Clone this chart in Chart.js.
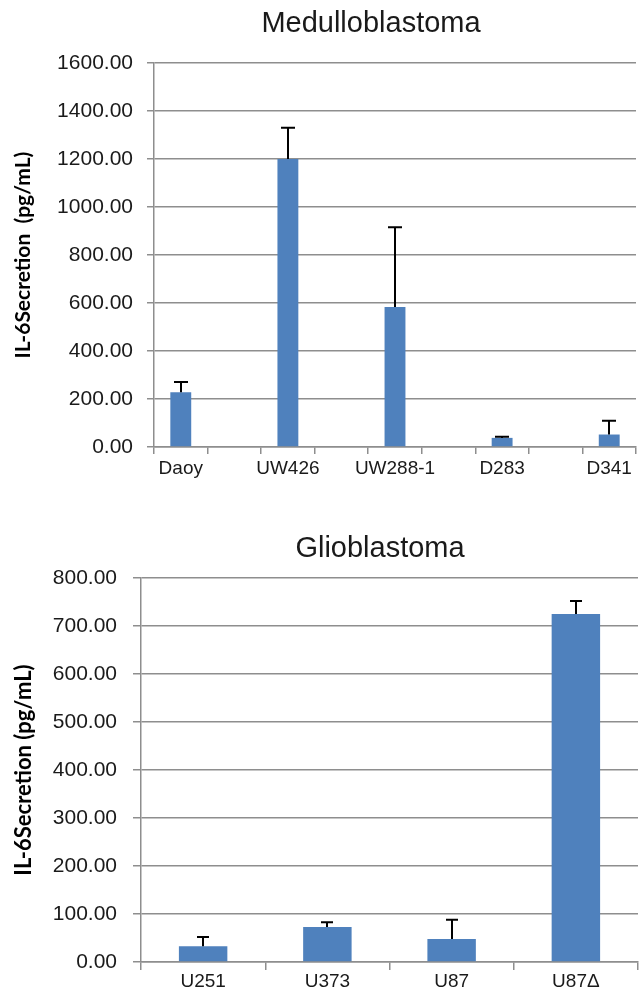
<!DOCTYPE html>
<html>
<head>
<meta charset="utf-8">
<script src="https://cdn.jsdelivr.net/npm/chart.js@4.4.1/dist/chart.umd.min.js"></script>
<style>
  html, body { margin: 0; padding: 0; background: #ffffff; }
  canvas { display: block; }
</style>
</head>
<body>
<canvas id="top" width="642" height="490"></canvas>
<canvas id="bottom" width="642" height="502"></canvas>
<script>
// ---- Data: Medulloblastoma (blank categories are empty spacer slots on the axis)
const medLabels = ['Daoy', '', 'UW426', '', 'UW288-1', '', 'D283', '', 'D341'];
const medValues = [228, null, 1200, null, 583, null, 38, null, 52];
const medErrors = [43, null, 130, null, 333, null, 5, null, 57];
const medTicks = [0, 200, 400, 600, 800, 1000, 1200, 1400, 1600];

// ---- Data: Glioblastoma
const gbmLabels = ['U251', 'U373', 'U87', 'U87\u0394'];
const gbmValues = [33, 73, 48, 725];
const gbmErrors = [19, 10, 40, 27];
const gbmTicks = [0, 100, 200, 300, 400, 500, 600, 700, 800];

const BAR = '#4F81BD';
const GRID = '#8e8e8e';
const TXT = '#1a1a1a';

const errorBarPlugin = {
  id: 'errorBars',
  afterDatasetsDraw(chart, args, opts) {
    const ctx = chart.ctx;
    const meta = chart.getDatasetMeta(0);
    const ys = chart.scales.y;
    const vals = chart.data.datasets[0].data;
    const errs = opts.errors;
    ctx.save();
    ctx.strokeStyle = '#000000';
    ctx.lineWidth = 2;
    vals.forEach((v, i) => {
      if (v === null || errs[i] === null) return;
      const el = meta.data[i];
      const x = Math.round(el.x);
      const yb = ys.getPixelForValue(v);
      const yt = ys.getPixelForValue(v + errs[i]);
      ctx.beginPath();
      ctx.moveTo(x, yb);
      ctx.lineTo(x, yt);
      ctx.moveTo(x - opts.cap / 2, yt);
      ctx.lineTo(x + opts.cap / 2, yt);
      ctx.stroke();
    });
    ctx.restore();
  }
};

const titlePlugin = {
  id: 'freeTitle',
  afterDraw(chart, args, opts) {
    const ctx = chart.ctx;
    ctx.save();
    ctx.font = opts.font;
    ctx.fillStyle = TXT;
    ctx.textAlign = 'center';
    ctx.textBaseline = 'middle';
    ctx.fillText(opts.text, opts.x, opts.y);
    ctx.restore();
  }
};

function makeChart(id, cfg) {
  return new Chart(document.getElementById(id), {
    type: 'bar',
    data: {
      labels: cfg.labels,
      datasets: [{
        data: cfg.values,
        backgroundColor: BAR,
        borderWidth: 0,
        barPercentage: 0.39,
        categoryPercentage: 1.0
      }]
    },
    plugins: [errorBarPlugin, titlePlugin],
    options: {
      responsive: false,
      animation: false,
      devicePixelRatio: 1,
      layout: { padding: cfg.padding },
      plugins: {
        legend: { display: false },
        tooltip: { enabled: false },
        title: { display: false },
        errorBars: { errors: cfg.errors, cap: cfg.cap },
        freeTitle: { text: cfg.title, x: cfg.titleX, y: cfg.titleY, font: '29px "Liberation Sans", Arial, sans-serif' }
      },
      scales: {
        x: {
          type: 'category',
          offset: true,
          grid: {
            display: true,
            drawOnChartArea: false,
            drawTicks: true,
            tickLength: cfg.tickLen,
            offset: true,
            color: GRID,
            lineWidth: 1.5
          },
          border: { display: true, color: GRID, width: 1.5 },
          ticks: {
            autoSkip: false,
            maxRotation: 0,
            minRotation: 0,
            padding: cfg.xPad,
            color: TXT,
            font: { family: '"Liberation Sans", Arial, sans-serif', size: 19 }
          },
          afterFit: s => { s.height = cfg.xHeight; }
        },
        y: {
          min: cfg.ticks[0],
          max: cfg.ticks[cfg.ticks.length - 1],
          afterBuildTicks: s => { s.ticks = cfg.ticks.map(v => ({ value: v })); },
          grid: {
            color: GRID,
            lineWidth: 1.5,
            drawTicks: true,
            tickLength: cfg.tickLen
          },
          border: { display: true, color: GRID, width: 1.5 },
          ticks: {
            padding: cfg.yPad,
            color: TXT,
            font: { family: '"Liberation Sans", Arial, sans-serif', size: 21 },
            callback: v => Number(v).toFixed(2)
          },
          title: {
            display: true,
            text: cfg.yTitle,
            color: '#000000',
            padding: { top: 2, bottom: 2 },
            font: { family: 'Lato, "Open Sans", sans-serif', size: cfg.yTitleSize, weight: 'bold' }
          },
          afterFit: s => { s.width = cfg.yWidth; }
        }
      }
    }
  });
}

makeChart('top', {
  labels: medLabels, values: medValues, errors: medErrors, ticks: medTicks,
  title: 'Medulloblastoma', titleX: 371, titleY: 24,
  yTitle: 'IL-6Secretion  (pg/mL)', yTitleSize: 21,
  padding: { left: 9, right: 6, top: 63, bottom: 0 },
  yWidth: 145, xHeight: 43, tickLen: 7, yPad: 14, xPad: 3, cap: 14
});

makeChart('bottom', {
  labels: gbmLabels, values: gbmValues, errors: gbmErrors, ticks: gbmTicks,
  title: 'Glioblastoma', titleX: 380, titleY: 59,
  yTitle: 'IL-6Secretion (pg/mL)', yTitleSize: 22,
  padding: { left: 9, right: 4, top: 88, bottom: 0 },
  yWidth: 132, xHeight: 30, tickLen: 8, yPad: 16, xPad: 0, cap: 12
});
</script>
</body>
</html>
